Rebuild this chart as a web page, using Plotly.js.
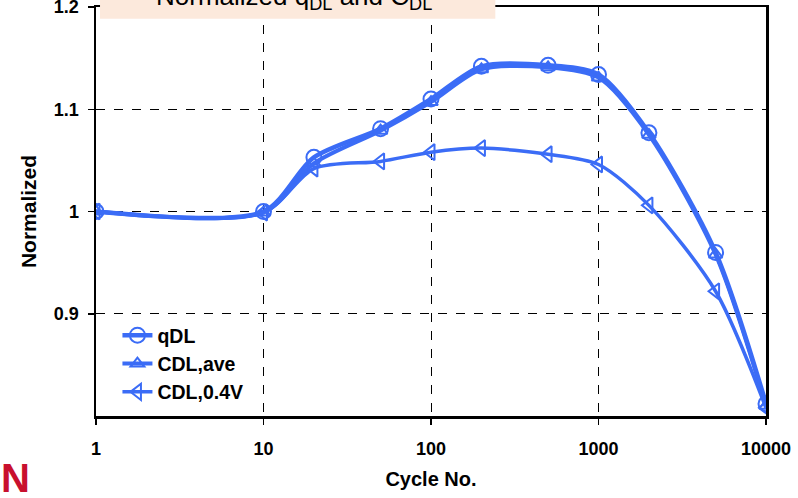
<!DOCTYPE html>
<html>
<head>
<meta charset="utf-8">
<script src="https://cdn.plot.ly/plotly-3.0.1.min.js"></script>
<style>html,body{margin:0;padding:0;background:#fff;}#chart{width:798px;height:498px;}</style>
</head>
<body>
<div id="chart"></div>
<script>
const cycles = [1, 10, 20, 50, 100, 200, 500, 1000, 2000, 5000, 10000];
const qDL = [1.0, 1.0, 1.053, 1.081, 1.110, 1.142, 1.143, 1.134, 1.077, 0.960, 0.812];
const cdlAve = [1.0, 0.999, 1.047, 1.079, 1.107, 1.139, 1.141, 1.131, 1.075, 0.958, 0.810];
const cdl04 = [1.0, 0.999, 1.042, 1.049, 1.058, 1.062, 1.056, 1.046, 1.006, 0.922, 0.808];
const names = ['qDL', 'CDL,ave', 'CDL,0.4V'];
const xTicks = [1, 10, 100, 1000, 10000];
const xTickText = ['1', '10', '100', '1000', '10000'];
const yTicks = [0.9, 1.0, 1.1, 1.2];
const yTickText = ['0.9', '1', '1.1', '1.2'];

const blue = '#3b6cf6';
const traces = [
  {x: cycles, y: qDL, name: names[0], mode: 'lines+markers',
   line: {color: blue, width: 4.5, shape: 'spline', smoothing: 0.8},
   marker: {symbol: 'circle-open', size: 15, color: blue, line: {width: 2, color: blue}}},
  {x: cycles, y: cdlAve, name: names[1], mode: 'lines+markers',
   line: {color: blue, width: 4, shape: 'spline', smoothing: 0.8},
   marker: {symbol: 'triangle-up-open', size: 12, color: blue, line: {width: 2, color: blue}}},
  {x: cycles, y: cdl04, name: names[2], mode: 'lines+markers',
   line: {color: blue, width: 3.5, shape: 'spline', smoothing: 0.8},
   marker: {symbol: 'triangle-left-open', size: 14, color: blue, line: {width: 2, color: blue}}}
];

const fam = 'Liberation Sans, Arial, sans-serif';
const layout = {
  width: 798, height: 498,
  margin: {l: 96, r: 32, t: 7, b: 82},
  paper_bgcolor: '#fff', plot_bgcolor: '#fff',
  font: {family: fam, color: '#000'},
  showlegend: true,
  legend: {x: 0.032, y: 0.2445, xanchor: 'left', yanchor: 'top', bgcolor: 'rgba(0,0,0,0)',
           font: {family: fam, size: 19.5, color: '#000', weight: 'bold'}},
  xaxis: {
    type: 'log', range: [0, 4], tickvals: xTicks, ticktext: xTickText,
    showgrid: true, gridcolor: '#000', griddash: 'dash', gridwidth: 1,
    showline: true, linecolor: '#000', linewidth: 2.5, mirror: true,
    ticks: 'outside', ticklen: 6, tickwidth: 1.5, tickcolor: '#000',
    ticklabelstandoff: 9, ticklabeloverflow: 'allow',
    tickfont: {family: fam, size: 18, color: '#000', weight: 'bold'},
    zeroline: false,
    title: {text: 'Cycle No.', standoff: 14, font: {family: fam, size: 20, color: '#000', weight: 'bold'}}
  },
  yaxis: {
    range: [0.8, 1.2], tickvals: yTicks, ticktext: yTickText,
    showgrid: true, gridcolor: '#000', griddash: 'dash', gridwidth: 1,
    showline: true, linecolor: '#000', linewidth: 2.5, mirror: true,
    ticks: 'outside', ticklen: 6, tickwidth: 1.5, tickcolor: '#000',
    ticklabelstandoff: 5, ticklabeloverflow: 'allow',
    tickfont: {family: fam, size: 18, color: '#000', weight: 'bold'},
    zeroline: false,
    title: {text: 'Normalized', standoff: 12, font: {family: fam, size: 21, color: '#000', weight: 'bold'}}
  },
  shapes: [
    {type: 'rect', xref: 'paper', yref: 'paper', x0: 0.006, x1: 0.596, y0: 0.971, y1: 1.03,
     fillcolor: '#fce9dc', line: {width: 0}, layer: 'above'}
  ],
  annotations: [
    {xref: 'paper', yref: 'paper', x: 0.295, y: 0.978, xanchor: 'center', yanchor: 'bottom',
     text: 'Normalized q<sub>DL</sub> and C<sub>DL</sub>', showarrow: false,
     font: {family: fam, size: 26, color: '#000'}},
    {xref: 'paper', yref: 'paper', x: -0.095, y: -0.092, xanchor: 'right', yanchor: 'top',
     text: '<b>N</b>', showarrow: false, font: {family: fam, size: 40, color: '#c8102e'}}
  ]
};
Plotly.newPlot('chart', traces, layout, {displayModeBar: false, staticPlot: true});
</script>
</body>
</html>
